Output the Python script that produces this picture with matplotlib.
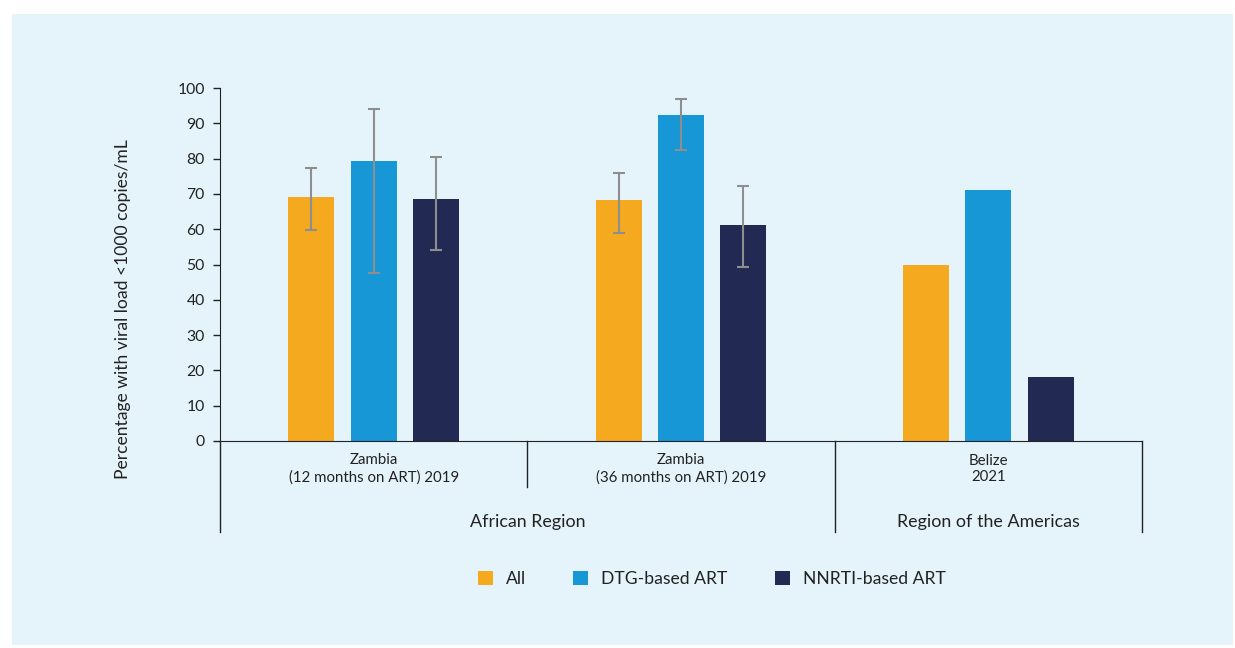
import matplotlib
matplotlib.use("Agg")
import matplotlib.pyplot as plt
from matplotlib.patches import Rectangle
from matplotlib.transforms import blended_transform_factory
import numpy as np

plt.rcParams['font.family'] = ['Lato', 'DejaVu Sans']

categories = ["Zambia\n(12 months on ART) 2019", "Zambia\n(36 months on ART) 2019", "Belize\n2021"]
regions = ["African Region", "Region of the Americas"]
series = ["All", "DTG-based ART", "NNRTI-based ART"]
values_all = [69.1, 68.3, 50.0]
values_dtg = [79.3, 92.4, 71.1]
values_nnrti = [68.6, 61.2, 18.1]
low_all = [59.7, 59.0, None]
high_all = [77.4, 76.0, None]
low_dtg = [47.7, 82.4, None]
high_dtg = [94.1, 96.8, None]
low_nnrti = [54.1, 49.4, None]
high_nnrti = [80.5, 72.2, None]

colors = ["#F5A91F", "#1797D6", "#222A54"]
bg = "#E5F4FB"

fig = plt.figure(figsize=(12.35, 6.48), dpi=100, facecolor="white")
fig.patches.append(Rectangle((12/1235, 1-645/648), (1233-12)/1235, (645-14)/648,
                             transform=fig.transFigure, facecolor=bg, edgecolor="none", zorder=-10))

ax = fig.add_axes([220/1235, 1-441/648, 922/1235, 353/648])
ax.set_facecolor("none")

x = np.arange(len(categories))
width = 0.15
offsets = [-0.203, 0.0, 0.203]
vals = [values_all, values_dtg, values_nnrti]
lows = [low_all, low_dtg, low_nnrti]
highs = [high_all, high_dtg, high_nnrti]
handles = []
for i in range(3):
    b = ax.bar(x + offsets[i], vals[i], width, color=colors[i], label=series[i], zorder=2)
    handles.append(b)
    ex, ey, el, eh = [], [], [], []
    for j in range(len(categories)):
        if lows[i][j] is not None:
            ex.append(x[j] + offsets[i])
            ey.append(vals[i][j])
            el.append(vals[i][j] - lows[i][j])
            eh.append(highs[i][j] - vals[i][j])
    ax.errorbar(ex, ey, yerr=[el, eh], fmt="none", ecolor="#8E8E8E", elinewidth=1.5,
                capsize=4, capthick=1.5, zorder=3)

ax.set_xlim(-0.5, 2.5)
ax.set_ylim(0, 100)
ax.set_yticks(range(0, 101, 10))
ax.tick_params(axis="y", labelsize=11.3, length=5, width=1, colors="#222222", pad=6)
ax.set_xticks([])
for s in ["top", "right"]:
    ax.spines[s].set_visible(False)
ax.spines["left"].set_color("#222222")
ax.spines["bottom"].set_color("#222222")

tr = blended_transform_factory(ax.transData, ax.transAxes)
full = -(532-441)/353
short = -(487-441)/353
for xs, yb in [(-0.5, full), (0.5, short), (1.5, full), (2.5, full)]:
    ax.plot([xs, xs], [0, yb], transform=tr, color="#222222", lw=1, clip_on=False)

for j, c in enumerate(categories):
    ax.text(x[j], -(469-441)/353, c, transform=tr, ha="center", va="center",
            fontsize=10.8, color="#222222", linespacing=1.25)
ax.text(0.5, -(522-441)/353, regions[0], transform=tr, ha="center", va="center",
        fontsize=12.9, color="#222222")
ax.text(2.0, -(522-441)/353, regions[1], transform=tr, ha="center", va="center",
        fontsize=12.9, color="#222222")

fig.text(123/1235, 1-309/648, "Percentage with viral load <1000 copies/mL", rotation=90,
         ha="center", va="center", fontsize=12.6, color="#222222")

fig.legend(handles=handles, labels=series, loc="center", bbox_to_anchor=(712/1235, 1-579/648),
           ncol=3, frameon=False, fontsize=12.6, handlelength=0.85, handleheight=0.85,
           columnspacing=2.7, handletextpad=0.75, labelcolor="#222222")

fig.savefig("out.png", dpi=100, facecolor="white")
